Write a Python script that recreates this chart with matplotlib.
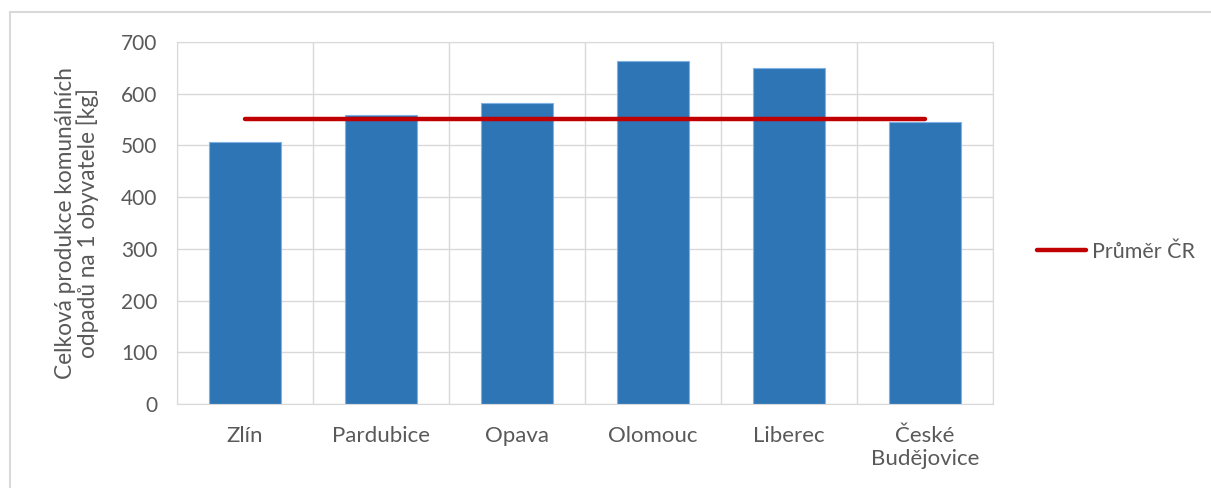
import matplotlib.pyplot as plt
from matplotlib.patches import Rectangle

plt.rcParams['font.family'] = ['Lato', 'DejaVu Sans']

mesta = ["Zlín", "Pardubice", "Opava", "Olomouc", "Liberec", "České\nBudějovice"]
produkce = [507, 559, 582, 663, 650, 545]
prumer_cr = 551

sedy = "#595959"
fig = plt.figure(figsize=(12.11, 4.88), dpi=100)
ax = fig.add_axes([177/1211, 1 - 404/488, (993-177)/1211, (404-42)/488])

x = list(range(len(mesta)))
ax.bar(x, produkce, width=0.53, color="#2E75B6", edgecolor="#7FB2E5", linewidth=0.8, zorder=2)
ax.plot(x, [prumer_cr] * len(x), color="#C00000", linewidth=3.2,
        solid_capstyle="round", zorder=3, label="Průměr ČR")

ax.set_xlim(-0.5, len(mesta) - 0.5)
ax.set_ylim(0, 700)
ax.set_yticks(range(0, 701, 100))
ax.set_xticks(x)
ax.set_xticklabels(mesta, fontsize=16, color=sedy, linespacing=1.15)
ax.tick_params(axis="y", labelsize=15, colors=sedy, length=0, pad=14)
ax.tick_params(axis="x", length=0, pad=16)

# svislé čáry mezi kategoriemi
ax.set_xticks([i - 0.5 for i in range(len(mesta) + 1)], minor=True)
ax.grid(axis="y", color="#D9D9D9", linewidth=1, zorder=0)
ax.grid(axis="x", which="minor", color="#D9D9D9", linewidth=1, zorder=0)
ax.grid(axis="x", which="major", visible=False)
ax.tick_params(axis="x", which="minor", length=0)
for s in ax.spines.values():
    s.set_color("#D9D9D9")

ax.set_ylabel("Celková produkce komunálních\nodpadů na 1 obyvatele [kg]",
              fontsize=16.3, color=sedy, labelpad=16, linespacing=1.0)

ax.legend(loc="center left", bbox_to_anchor=(1.03, 0.42), frameon=False,
          fontsize=15.5, labelcolor=sedy, handlelength=2.3, handletextpad=0.25)

# rámeček grafu
fig.patches.append(Rectangle((10/1211, -0.1), 1.2, 1 - 12/488 + 0.1,
                             transform=fig.transFigure, fill=False,
                             edgecolor="#D9D9D9", linewidth=1.5))

fig.savefig("out.png", dpi=100)
